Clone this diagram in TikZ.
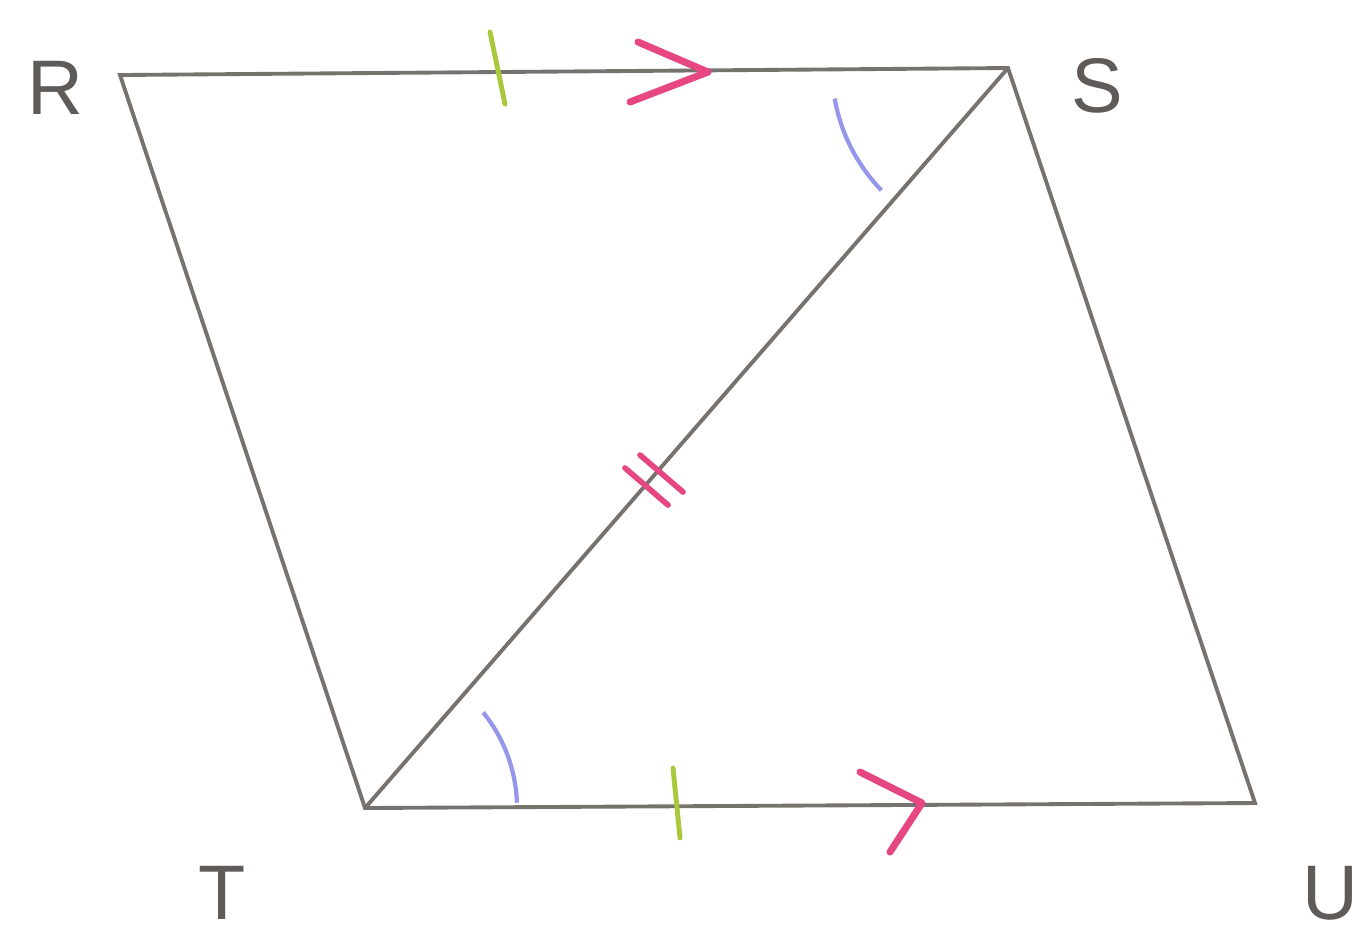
\documentclass[tikz,border=0pt]{standalone}
\usepackage{fontspec}
\setmainfont{Liberation Sans}
\usetikzlibrary{positioning}
\definecolor{edgegray}{RGB}{118,114,110}
\definecolor{tickgreen}{RGB}{170,200,60}
\definecolor{arrpink}{RGB}{230,70,130}
\definecolor{angblue}{RGB}{150,150,235}

\begin{document}
\begin{tikzpicture}[x=0.01cm,y=-0.01cm,
  side/.style={draw=edgegray,line width=1.1pt,line join=miter},
  tick/.style={draw=tickgreen,line width=1.4pt,line cap=round},
  par/.style={draw=arrpink,line width=2pt,line cap=round,line join=round},
  ang/.style={draw=angblue,line width=1.2pt},
  lab/.style={font=\fontsize{22}{24}\selectfont,text=edgegray!80!black,inner sep=0pt}
]
  \useasboundingbox (0,0) rectangle (1364,938);
  \coordinate (R) at (120,75);
  \coordinate (S) at (1008,68);
  \coordinate (T) at (365,808);
  \coordinate (U) at (1255,803);
  \draw[side] (R) -- (S) -- (U) -- (T) -- cycle;
  \draw[side] (S) -- (T);
  \node[lab] (lR) at (55,88) {R};
  \node[lab] (lS) at (1097,86) {S};
  \node[lab] (lT) at (222,893) {T};
  \node[lab] (lU) at (1330,893) {U};
  % equal sides
  \draw[tick] (490,32) -- (505,104);
  \draw[tick] (673,768) -- (680,838);
  % parallel sides
  \draw[par] (638,42) -- (708,72) -- (630,102);
  \draw[par] (860,772) -- (922,803) -- (890,852);
  % common side
  \draw[par,line width=1.6pt] (625,468) -- (668,505);
  \draw[par,line width=1.6pt] (640,455) -- (683,492);
  % equal angles (y axis points down, so angles run clockwise)
  \draw[ang] (S) ++(170:176) arc[start angle=170,end angle=136,radius=176];
  \draw[ang] (T) ++(-2:152) arc[start angle=-2,end angle=-39,radius=152];
\end{tikzpicture}
\end{document}
